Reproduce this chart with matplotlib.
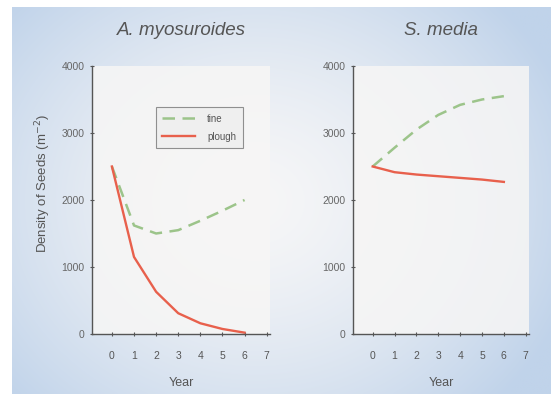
import numpy as np
import matplotlib
matplotlib.use("Agg")
import matplotlib.pyplot as plt

plt.rcParams['font.family'] = ['Liberation Sans', 'DejaVu Sans']

years = [0, 1, 2, 3, 4, 5, 6]
titles = ["A. myosuroides", "S. media"]
tine_a = [2500, 1620, 1500, 1550, 1690, 1840, 2000]
plough_a = [2500, 1150, 630, 310, 160, 75, 20]
tine_s = [2500, 2780, 3050, 3270, 3420, 3500, 3550]
plough_s = [2500, 2415, 2380, 2355, 2330, 2305, 2270]
yticks = [0, 1000, 2000, 3000, 4000]
xticks = [0, 1, 2, 3, 4, 5, 6, 7]
series_names = ["tine", "plough"]

W, H = 551, 394
fig = plt.figure(figsize=(W / 100, H / 100), dpi=100)
fig.patch.set_facecolor('white')

# background gradient panel
bg = fig.add_axes([12 / W, 0, 1 - 12 / W, 1 - 7 / H], zorder=-10)
ny, nx = 200, 300
yy, xx = np.mgrid[0:ny, 0:nx]
cx, cy = nx * 0.45, ny * 0.5
d = np.sqrt(((xx - cx) / (nx * 0.62)) ** 2 + ((yy - cy) / (ny * 0.75)) ** 2)
d = np.clip(d, 0, 1) ** 1.5
c_in = np.array([246, 246, 247]) / 255
c_out = np.array([192, 211, 234]) / 255
img = c_in[None, None, :] * (1 - d[..., None]) + c_out[None, None, :] * d[..., None]
bg.imshow(img, aspect='auto', extent=[0, 1, 0, 1], interpolation='bilinear')
bg.axis('off')

green = '#9cc48a'
red = '#e8604c'
gray = '#555555'

positions = [
    [92 / W, 1 - 334 / H, 178 / W, 268 / H],
    [353 / W, 1 - 334 / H, 176 / W, 268 / H],
]
data = [(tine_a, plough_a), (tine_s, plough_s)]

for i, (pos, (tine, plough)) in enumerate(zip(positions, data)):
    ax = fig.add_axes(pos)
    ax.set_facecolor((0.97, 0.965, 0.96, 0.85))
    ax.plot(years, tine, color=green, lw=1.8, ls=(0, (5, 3)), label=series_names[0])
    ax.plot(years, plough, color=red, lw=1.7, label=series_names[1])
    ax.set_xlim(-0.9, 7.15)
    ax.set_ylim(0, 4000)
    ax.set_xticks(xticks)
    ax.set_yticks(yticks)
    for s in ['top', 'right']:
        ax.spines[s].set_visible(False)
    for s in ['left', 'bottom']:
        ax.spines[s].set_color(gray)
        ax.spines[s].set_linewidth(1.0)
    ax.tick_params(axis='x', direction='inout', length=3, width=0.8, colors=gray,
                   pad=11, labelsize=7.5, labelcolor='#555555')
    ax.tick_params(axis='y', direction='inout', length=3, width=0.8, colors=gray,
                   pad=4, labelsize=7.5, labelcolor='#666666')
    ax.set_xlabel("Year", fontsize=9, color='#555555', labelpad=11)
    ax.set_title(titles[i], fontsize=13.5, style='italic', color='#555555', pad=22)
    if i == 0:
        ax.set_ylabel("Density of Seeds (m$^{-2}$)", fontsize=9.5, color='#555555')
        ax.yaxis.set_label_coords(-0.22, 0.56)
        leg = ax.legend(loc='upper left', bbox_to_anchor=(0.33, 0.865), fontsize=7,
                        handlelength=3.4, frameon=True, fancybox=False,
                        borderpad=0.7, labelspacing=0.8, handletextpad=1.2)
        leg.get_frame().set_edgecolor('#777777')
        leg.get_frame().set_facecolor('#eeeeee')
        leg.get_frame().set_linewidth(0.8)
        for t in leg.get_texts():
            t.set_color('#555555')

fig.savefig("out.png", dpi=100)
